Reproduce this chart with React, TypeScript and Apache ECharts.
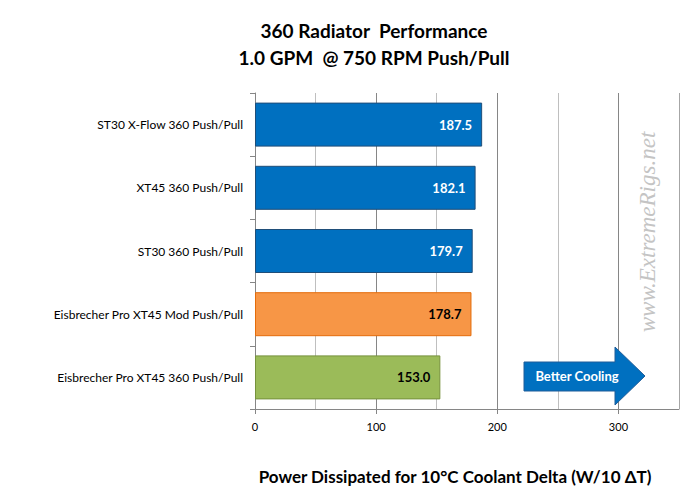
import React, { useEffect, useRef } from "react";
import * as echarts from "echarts";

const categories = [
  "ST30 X-Flow 360 Push/Pull",
  "XT45 360 Push/Pull",
  "ST30 360 Push/Pull",
  "Eisbrecher Pro XT45 Mod Push/Pull",
  "Eisbrecher Pro XT45 360 Push/Pull",
];
const values = [187.5, 182.1, 179.7, 178.7, 153.0];
const barColors = ["#0070C0", "#0070C0", "#0070C0", "#F79646", "#9BBB59"];
const borderColors = ["#1F4E79", "#1F4E79", "#1F4E79", "#E46C0A", "#76923C"];
const labelColors = ["#FFFFFF", "#FFFFFF", "#FFFFFF", "#000000", "#000000"];
const tickLabels = [0, 100, 200, 300];

const FONT = "Lato, 'Open Sans', sans-serif";

export default function App() {
  const ref = useRef<HTMLDivElement>(null);
  useEffect(() => {
    if (!ref.current) return;
    const chart = echarts.init(ref.current, null, { renderer: "svg" });
    chart.setOption({
      animation: false,
      backgroundColor: "#FFFFFF",
      textStyle: { fontFamily: FONT },
      title: {
        text: "360 Radiator  Performance\n1.0 GPM  @ 750 RPM Push/Pull",
        left: 369,
        textAlign: "center",
        top: 12,
        textStyle: {
          fontFamily: FONT,
          fontSize: 19,
          fontWeight: "bold",
          color: "#000",
          lineHeight: 27,
        },
      },
      grid: { left: 255, right: 20, top: 93, bottom: 82, containLabel: false },
      xAxis: [
        {
          type: "value",
          min: 0,
          max: 350,
          interval: 100,
          axisLine: { show: true, lineStyle: { color: "#868686", width: 1 } },
          axisTick: {
            show: true,
            length: 5,
            customValues: tickLabels,
            lineStyle: { color: "#868686" },
          },
          axisLabel: {
            customValues: tickLabels,
            color: "#000",
            fontSize: 11,
            fontFamily: FONT,
            margin: 12,
          },
          splitLine: { show: false },
          z: 3,
        },
        {
          type: "value",
          min: 0,
          max: 350,
          interval: 50,
          position: "bottom",
          axisLine: { show: false },
          axisTick: { show: false },
          axisLabel: { show: false },
          splitLine: {
            show: true,
            lineStyle: {
              color: ["#868686", "#BFBFBF", "#868686", "#BFBFBF", "#868686", "#BFBFBF", "#868686", "#A6A6A6"],
              width: 1,
            },
          },
        },
      ],
      yAxis: {
        type: "category",
        data: categories,
        inverse: true,
        axisLine: { show: true, lineStyle: { color: "#868686" } },
        axisTick: { show: true, length: 5, lineStyle: { color: "#868686" } },
        axisLabel: { color: "#000", fontSize: 12, fontFamily: FONT, margin: 12 },
        splitLine: { show: false },
      },
      series: [
        {
          type: "bar",
          xAxisIndex: 0,
          barWidth: 44,
          data: values.map((v, i) => ({
            value: v,
            itemStyle: { color: barColors[i], borderColor: borderColors[i], borderWidth: 1 },
            label: { color: labelColors[i] },
          })),
          label: {
            show: true,
            position: "insideRight",
            distance: 10,
            formatter: (p: any) => Number(p.value).toFixed(1),
            fontSize: 13,
            fontWeight: "bold",
            fontFamily: FONT,
          },
        },
      ],
      graphic: [
        {
          type: "polygon",
          shape: {
            points: [
              [524, 362],
              [615, 362],
              [615, 347],
              [645, 376],
              [615, 405],
              [615, 391],
              [524, 391],
            ],
          },
          style: { fill: "#0070C0", stroke: "#1F5C99", lineWidth: 1 },
          z: 10,
        },
        {
          type: "text",
          x: 577,
          y: 376,
          style: {
            text: "Better Cooling",
            fill: "#FFFFFF",
            fontFamily: FONT,
            fontSize: 13,
            fontWeight: "bold",
            align: "center",
            verticalAlign: "middle",
          },
          z: 11,
        },
        {
          type: "text",
          x: 647,
          y: 232,
          rotation: Math.PI / 2,
          style: {
            text: "www.ExtremeRigs.net",
            fill: "#C4C4C4",
            fontFamily: "'Liberation Serif', 'DejaVu Serif', serif",
            fontStyle: "italic",
            fontSize: 23,
            align: "center",
            verticalAlign: "middle",
          },
          z: 5,
        },
        {
          type: "text",
          x: 455,
          y: 476,
          style: {
            text: "Power Dissipated for 10°C Coolant Delta (W/10 ΔT)",
            fill: "#000",
            fontFamily: FONT,
            fontSize: 17,
            fontWeight: "bold",
            align: "center",
            verticalAlign: "middle",
          },
        },
      ],
    });
    return () => chart.dispose();
  }, []);
  return (
    <div
      ref={ref}
      style={{ position: "fixed", left: 0, top: 0, width: 699, height: 491 }}
    />
  );
}
